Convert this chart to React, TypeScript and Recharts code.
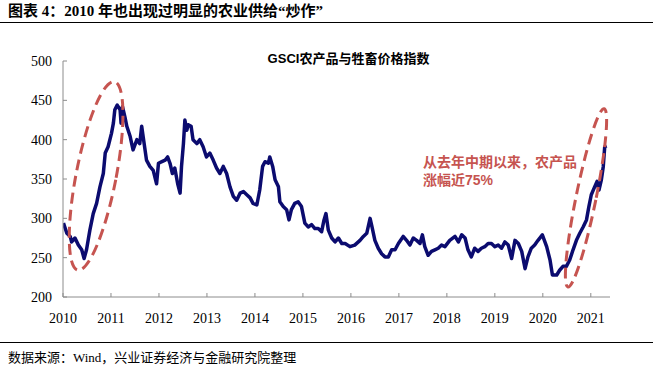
import React from "react";
import { LineChart, Line, XAxis, YAxis, ReferenceDot } from "recharts";

// decimal year of each reading
const years = [
  2010.01, 2010.08, 2010.15, 2010.18, 2010.25, 2010.32, 2010.39, 2010.44, 2010.49, 2010.56,
  2010.63, 2010.7, 2010.77, 2010.84, 2010.88, 2010.94, 2011.01, 2011.05, 2011.08, 2011.13,
  2011.19, 2011.21, 2011.24, 2011.29, 2011.33, 2011.4, 2011.46, 2011.54, 2011.6, 2011.64,
  2011.67, 2011.74, 2011.81, 2011.88, 2011.95, 2011.99, 2012.06, 2012.13, 2012.18, 2012.23,
  2012.28, 2012.33, 2012.39, 2012.44, 2012.47, 2012.51, 2012.54, 2012.58, 2012.61, 2012.67,
  2012.71, 2012.79, 2012.85, 2012.92, 2012.99, 2013.06, 2013.13, 2013.2, 2013.27, 2013.34,
  2013.41, 2013.48, 2013.55, 2013.62, 2013.69, 2013.76, 2013.83, 2013.9, 2013.96, 2014.04,
  2014.1, 2014.16, 2014.21, 2014.28, 2014.31, 2014.37, 2014.42, 2014.49, 2014.52, 2014.59,
  2014.66, 2014.71, 2014.76, 2014.83, 2014.9, 2014.97, 2015.04, 2015.11, 2015.18, 2015.25,
  2015.32, 2015.39, 2015.44, 2015.48, 2015.53, 2015.6, 2015.67, 2015.74, 2015.81, 2015.88,
  2015.98, 2016.08, 2016.19, 2016.26, 2016.33, 2016.4, 2016.44, 2016.5, 2016.57, 2016.64,
  2016.71, 2016.78, 2016.85, 2016.92, 2016.99, 2017.09, 2017.16, 2017.23, 2017.3, 2017.37,
  2017.44, 2017.49, 2017.54, 2017.61, 2017.68, 2017.75, 2017.82, 2017.89, 2017.96, 2018.06,
  2018.17, 2018.24, 2018.31, 2018.38, 2018.44, 2018.51, 2018.58, 2018.65, 2018.72, 2018.79,
  2018.86, 2018.93, 2019.0, 2019.07, 2019.14, 2019.21, 2019.28, 2019.35, 2019.42, 2019.49,
  2019.56, 2019.63, 2019.69, 2019.76, 2019.83, 2019.9, 2019.99, 2020.08, 2020.15, 2020.2,
  2020.29, 2020.35, 2020.42, 2020.49, 2020.56, 2020.63, 2020.7, 2020.77, 2020.84, 2020.91,
  2020.96, 2021.01, 2021.08, 2021.13, 2021.17, 2021.22, 2021.26, 2021.29, 2021.33,
];

// GSCI agriculture & livestock index
const gsci = [
  294, 281, 277, 270, 275, 266, 260, 249, 260, 285,
  306, 319, 340, 357, 383, 391, 408, 421, 438, 444,
  438, 421, 442, 429, 417, 404, 387, 400, 395, 417,
  404, 374, 366, 361, 344, 370, 372, 374, 378, 370,
  357, 364, 344, 332, 366, 395, 425, 412, 419, 417,
  400, 395, 400, 391, 378, 383, 374, 364, 357, 366,
  357, 340, 328, 323, 332, 334, 330, 326, 319, 317,
  336, 366, 372, 370, 378, 366, 349, 340, 321, 315,
  311, 298, 311, 319, 321, 315, 294, 289, 292, 287,
  287, 283, 298, 306, 285, 275, 270, 275, 268, 268,
  264, 266, 272, 277, 281, 300, 289, 272, 262, 255,
  251, 251, 260, 260, 268, 277, 272, 266, 275, 272,
  268, 279, 264, 253, 258, 260, 262, 266, 264, 272,
  277, 270, 279, 275, 260, 251, 262, 258, 262, 264,
  268, 268, 264, 266, 262, 270, 266, 249, 272, 268,
  258, 236, 251, 262, 266, 272, 279, 264, 247, 228,
  228, 234, 239, 239, 247, 260, 272, 281, 289, 298,
  315, 330, 340, 347, 336, 349, 366, 391, 392,
];

const yearTicks = [2010, 2011, 2012, 2013, 2014, 2015, 2016, 2017, 2018, 2019, 2020, 2021];
const valueTicks = [200, 250, 300, 350, 400, 450, 500];

const data = years.map((t, i) => ({ t, v: gsci[i] }));

const serif = '"Liberation Serif", "Times New Roman", "Noto Sans CJK SC", serif';
const sans = '"Liberation Sans", Arial, "Noto Sans CJK SC", sans-serif';
const red = "#C65450";
const axisGrey = "#8c8c8c";

const TICK = 4;
const X_GAP = 12;
const Y_GAP = 7;

// tick marks point inward, so the label and the mark are drawn together
const XTick = (props: any) => {
  const { x, y, payload } = props;
  const axisY = y - TICK - X_GAP;
  return (
    <g>
      <line x1={x} x2={x} y1={axisY} y2={axisY - TICK} stroke={axisGrey} />
      <text x={x} y={y} dy="0.71em" textAnchor="middle" fill="#000" fontSize={14} fontFamily={serif}>
        {payload.value}
      </text>
    </g>
  );
};

const YTick = (props: any) => {
  const { x, y, payload } = props;
  const axisX = x + TICK + Y_GAP;
  return (
    <g>
      <line x1={axisX} x2={axisX + TICK} y1={y} y2={y} stroke={axisGrey} />
      <text x={x} y={y} dy="0.355em" textAnchor="end" fill="#000" fontSize={14} fontFamily={serif}>
        {payload.value}
      </text>
    </g>
  );
};

const ellipseShape = (rx: number, ry: number, angle: number) => (props: any) => {
  const { cx, cy } = props;
  return (
    <ellipse
      cx={cx}
      cy={cy}
      rx={rx}
      ry={ry}
      transform={`rotate(${angle} ${cx} ${cy})`}
      fill="none"
      stroke={red}
      strokeWidth={3}
      strokeDasharray="11 6"
    />
  );
};

export default function App() {
  return (
    <div style={{ position: "absolute", left: 0, top: 0, width: 653, height: 367, background: "#fff", overflow: "hidden" }}>
      <div
        style={{
          position: "absolute", left: 8, top: 3, fontFamily: serif, fontWeight: 700,
          fontSize: 15, lineHeight: "16px", color: "#000", whiteSpace: "nowrap",
        }}
      >
        图表 4：2010 年也出现过明显的农业供给“炒作”
      </div>
      <div style={{ position: "absolute", left: 0, top: 22, width: 653, height: 1, background: "#000" }} />

      <LineChart
        width={653}
        height={367}
        data={data}
        margin={{ top: 61, right: 43, left: 13, bottom: 40 }}
      >
        <XAxis
          dataKey="t"
          type="number"
          domain={[2010, 2021.4]}
          ticks={yearTicks}
          allowDataOverflow
          height={30}
          stroke={axisGrey}
          tickLine={false}
          tickSize={TICK}
          tickMargin={X_GAP}
          tick={<XTick />}
        />
        <YAxis
          type="number"
          domain={[200, 500]}
          ticks={valueTicks}
          width={50}
          stroke={axisGrey}
          tickLine={false}
          tickSize={TICK}
          tickMargin={Y_GAP}
          tick={<YTick />}
        />
        <Line
          dataKey="v"
          stroke="#0B0B6F"
          strokeWidth={3.5}
          dot={false}
          isAnimationActive={false}
          strokeLinejoin="round"
        />
        <ReferenceDot x={2010.69} y={354} r={1} shape={ellipseShape(20, 96, 11)} />
        <ReferenceDot x={2020.9} y={326} r={1} shape={ellipseShape(10, 91, 11.5)} />
      </LineChart>

      <div
        style={{
          position: "absolute", left: 0, width: 697, top: 51, textAlign: "center",
          fontFamily: sans, fontWeight: 700, fontSize: 13, lineHeight: "16px", color: "#000",
        }}
      >
        GSCI农产品与牲畜价格指数
      </div>
      <div
        style={{
          position: "absolute", left: 423, top: 153, fontFamily: sans, fontWeight: 700,
          fontSize: 14, lineHeight: "18px", color: red, whiteSpace: "nowrap",
        }}
      >
        从去年中期以来，农产品
        <br />
        涨幅近75%
      </div>

      <div style={{ position: "absolute", left: 0, top: 342, width: 653, height: 1, background: "#000" }} />
      <div
        style={{
          position: "absolute", left: 8, top: 350, fontFamily: serif, fontSize: 13,
          lineHeight: "16px", color: "#000", whiteSpace: "nowrap",
        }}
      >
        数据来源：Wind，兴业证券经济与金融研究院整理
      </div>
    </div>
  );
}
